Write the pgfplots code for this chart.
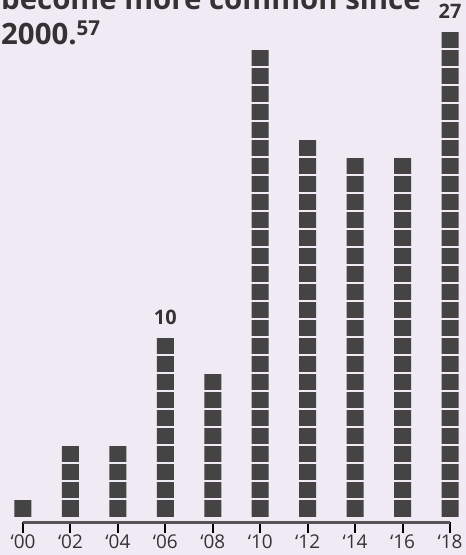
\documentclass[border=0pt]{standalone}
\usepackage{fontspec}
\setmainfont{Open Sans}
\usepackage{pgfplots}
\pgfplotsset{compat=1.18}
\definecolor{bg}{HTML}{F0EAF4}
\definecolor{barc}{HTML}{444444}
\definecolor{txt}{HTML}{333333}
\definecolor{axc}{HTML}{555555}
\begin{document}
\begin{tikzpicture}[x=1bp,y=1bp]
\path[use as bounding box, fill=bg] (-23,-33) rectangle (443,522);
\begin{axis}[
  at={(0,0)}, anchor=south west,
  scale only axis, width=427bp, height=522bp,
  xmin=0, xmax=18, ymin=-0.28, ymax=28.72,
  clip=false, axis on top,
  axis x line=bottom, axis y line=none,
  x axis line style={-, draw=axc, line width=3bp},
  xtick={0,2,...,18},
  xticklabels={‘00,‘02,‘04,‘06,‘08,‘10,‘12,‘14,‘16,‘18},
  xtick align=outside,
  major tick length=11bp,
  x tick style={draw=black, line width=2bp},
  xticklabel style={font=\fontsize{19}{21}\selectfont, text=txt, inner sep=1bp, yshift=-1bp},
]
\addplot[ybar, bar width=17bp, fill=barc, draw=none] coordinates {
(0,1) (2,4) (4,4) (6,10) (8,8) (10,26) (12,21) (14,20) (16,20) (18,27)};
% separators between the unit squares
\foreach \k in {1,...,27} {
  \edef\tmp{\noexpand\draw[bg, line width=1.6bp] (axis cs:-0.5,\k) -- (axis cs:18.5,\k);}
  \tmp
}
\coordinate (c06) at (axis cs:6,10);
\coordinate (c18) at (axis cs:18,27);
\end{axis}
\node[anchor=base, yshift=12bp, inner sep=0, text=txt, font=\bfseries\fontsize{20}{20}\selectfont] at (c06) {10};
\node[anchor=base, yshift=12bp, inner sep=0, text=txt, font=\bfseries\fontsize{20}{20}\selectfont] at (c18) {27};
\node[anchor=base west, inner sep=0, text=txt, font=\bfseries\fontsize{29.5}{35}\selectfont] at (-22,512) {become more common since};
\node[anchor=base west, inner sep=0, text=txt, font=\bfseries\fontsize{29.5}{35}\selectfont] at (-22,477) {2000.\textsuperscript{57}};
\end{tikzpicture}
\end{document}
